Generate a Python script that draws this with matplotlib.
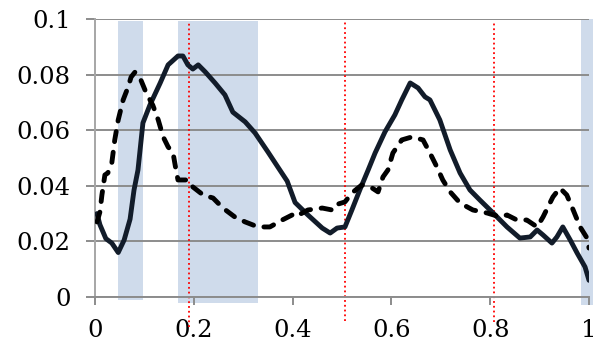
import matplotlib
matplotlib.use('Agg')
import matplotlib.pyplot as plt

# ---- Data
solid_x = [0.004, 0.010, 0.022, 0.034, 0.047, 0.059, 0.071, 0.079, 0.087,
           0.097, 0.111, 0.132, 0.148, 0.168, 0.178, 0.188, 0.198, 0.209,
           0.223, 0.243, 0.263, 0.279, 0.304, 0.324, 0.350, 0.370, 0.389,
           0.405, 0.431, 0.460, 0.476, 0.490, 0.506, 0.520, 0.536, 0.553,
           0.567, 0.587, 0.607, 0.621, 0.638, 0.654, 0.668, 0.678, 0.698,
           0.719, 0.739, 0.759, 0.779, 0.806, 0.834, 0.860, 0.881, 0.895,
           0.907, 0.925, 0.935, 0.947, 0.962, 0.976, 0.992, 1.000]
solid_y = [0.030, 0.026, 0.021, 0.0194, 0.016, 0.0205, 0.028, 0.0385,
           0.0457, 0.0626, 0.069, 0.077, 0.0835, 0.0867, 0.0867, 0.0835,
           0.082, 0.0835, 0.081, 0.077, 0.0727, 0.0665, 0.063, 0.059,
           0.0522, 0.0468, 0.0417, 0.034, 0.0295, 0.0248, 0.023, 0.0248,
           0.0252, 0.0313, 0.0385, 0.0457, 0.0518, 0.0594, 0.0655, 0.0709,
           0.077, 0.0752, 0.072, 0.0709, 0.0637, 0.0529, 0.0446, 0.0385,
           0.0349, 0.0302, 0.0252, 0.0212, 0.0216, 0.0241, 0.0223, 0.0194,
           0.0216, 0.0252, 0.0205, 0.0158, 0.0108, 0.006]

dash_x = [0.004, 0.010, 0.014, 0.020, 0.026, 0.034, 0.040, 0.047, 0.057,
          0.067, 0.073, 0.081, 0.093, 0.103, 0.117, 0.128, 0.138, 0.148,
          0.158, 0.164, 0.168, 0.188, 0.198, 0.219, 0.239, 0.259, 0.283,
          0.304, 0.330, 0.354, 0.379, 0.399, 0.405, 0.431, 0.460, 0.480,
          0.486, 0.506, 0.520, 0.540, 0.561, 0.573, 0.583, 0.593, 0.603,
          0.621, 0.642, 0.664, 0.678, 0.692, 0.704, 0.719, 0.739, 0.765,
          0.794, 0.820, 0.834, 0.854, 0.874, 0.895, 0.907, 0.927, 0.941,
          0.955, 0.968, 0.982, 0.996, 1.000]
dash_y = [0.027, 0.0306, 0.0367, 0.0439, 0.0446, 0.0482, 0.0565, 0.0637,
          0.0709, 0.0755, 0.0791, 0.0809, 0.078, 0.0737, 0.069, 0.0637,
          0.0576, 0.054, 0.0518, 0.0457, 0.0421, 0.0421, 0.0396, 0.0367,
          0.0356, 0.032, 0.0288, 0.027, 0.0252, 0.0252, 0.0277, 0.0295,
          0.0288, 0.0313, 0.032, 0.0313, 0.0331, 0.0342, 0.0374, 0.0403,
          0.0392, 0.0378, 0.0432, 0.0457, 0.0518, 0.0565, 0.0576, 0.0565,
          0.0518, 0.0468, 0.0421, 0.0378, 0.0338, 0.0313, 0.0302, 0.0288,
          0.0295, 0.0277, 0.0277, 0.0252, 0.0288, 0.036, 0.0392, 0.0367,
          0.0313, 0.0252, 0.0212, 0.0176]

# shaded intervals (x0, x1, y bottom, y top)
span_x0 = [0.047, 0.168, 0.984]
span_x1 = [0.097, 0.330, 1.008]
span_ybot = [-0.0011, -0.0021, -0.0029]
span_ytop = [0.0993, 0.0993, 0.1]

# red dotted markers
mark_x = [0.19, 0.507, 0.808]
mark_ybot = [-0.0108, -0.0086, -0.009]
mark_ytop = [0.0993, 0.0993, 0.0993]

xticks = [0, 0.2, 0.4, 0.6, 0.8, 1]
xticklabels = ['0', '0.2', '0.4', '0.6', '0.8', '1']
yticks = [0, 0.02, 0.04, 0.06, 0.08, 0.1]
yticklabels = ['0', '0.02', '0.04', '0.06', '0.08', '0.1']

plt.rcParams['font.family'] = ['DejaVu Serif']

fig = plt.figure(figsize=(6.02, 3.44), dpi=100)
ax = fig.add_axes([95/602, 47/344, 494/602, 278/344])

span_color = '#cfdbeb'
for x0, x1, yb, yt in zip(span_x0, span_x1, span_ybot, span_ytop):
    ax.fill_between([x0, x1], yb, yt, color=span_color, lw=0,
                    zorder=0.2, clip_on=False)

ax.set_axisbelow(True)
ax.grid(axis='y', color='#8c8c8c', lw=1.4)
ax.grid(axis='x', visible=False)

for x, yb, yt in zip(mark_x, mark_ybot, mark_ytop):
    ax.plot([x, x], [yb, yt], color='red', ls=':', lw=1.3,
            zorder=1.5, clip_on=False)

ax.plot(solid_x, solid_y, color='#121c2a', lw=3.5,
        solid_joinstyle='round', solid_capstyle='round', zorder=3)
ax.plot(dash_x, dash_y, color='black', lw=3.5, ls=(0, (2.1, 2.2)),
        dash_capstyle='round', dash_joinstyle='round', zorder=3)

ax.set_xlim(0, 1)
ax.set_ylim(0, 0.1)
ax.set_xticks(xticks)
ax.set_xticklabels(xticklabels)
ax.set_yticks(yticks)
ax.set_yticklabels(yticklabels)

for side in ['top', 'right']:
    ax.spines[side].set_visible(False)
ax.spines['left'].set_color('#a6a6a6')
ax.spines['left'].set_linewidth(1.4)
ax.spines['bottom'].set_color('#8c8c8c')
ax.spines['bottom'].set_linewidth(1.4)

ax.tick_params(axis='y', direction='out', length=6.5, width=1.4,
               color='#8c8c8c', pad=11, labelsize=17.5)
ax.tick_params(axis='x', direction='out', length=6, width=1.4,
               color='#8c8c8c', pad=10, labelsize=17.5)

fig.savefig('out.png', dpi=100)
